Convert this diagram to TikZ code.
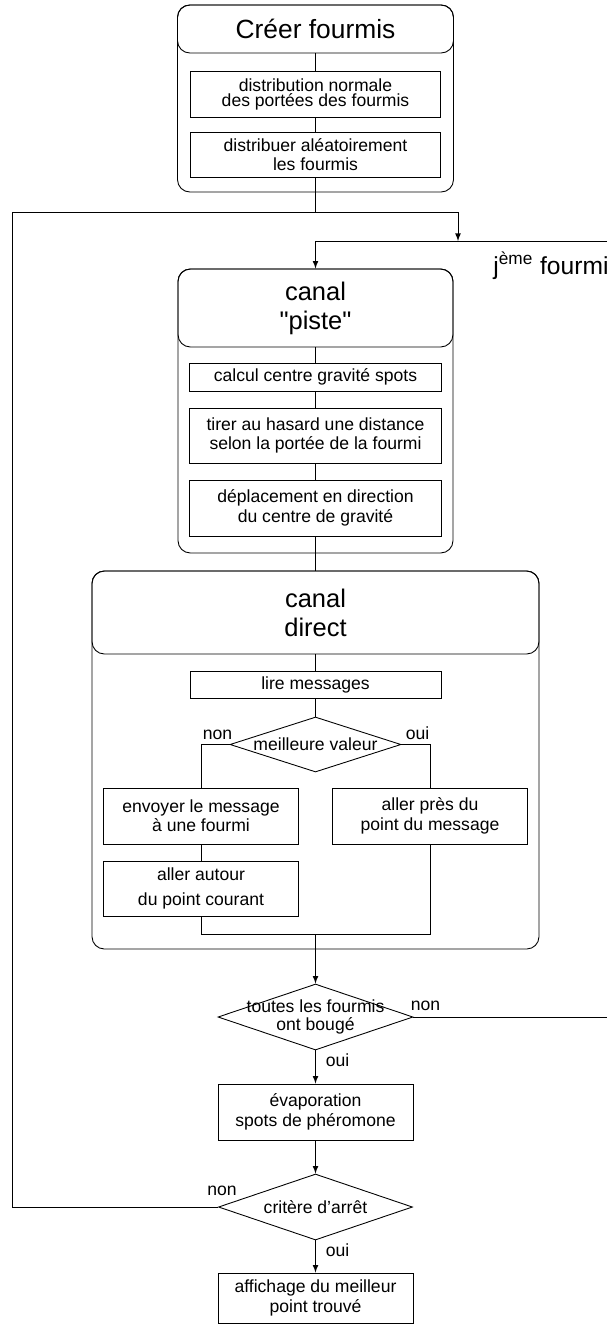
\documentclass[tikz,border=0pt]{standalone}
\usepackage{fontspec}
\setmainfont[Ligatures=TeXOff]{Liberation Sans}
\usetikzlibrary{shapes,positioning}

\begin{document}
\begin{tikzpicture}[
		>=latex,line width=0.5pt,
		groupe/.style={draw,rounded corners=7pt,inner sep=0},
		entete/.style={draw,rounded corners=7pt,align=center,inner sep=0,font=\fontsize{14.5}{16.5}\selectfont},
		etape/.style={draw,align=center,inner sep=0,font=\fontsize{10}{11}\selectfont},
		test/.style={draw,diamond,inner sep=0},
		txt/.style={align=center,inner sep=0,font=\fontsize{10}{10.5}\selectfont},
		lab/.style={inner sep=0,font=\fontsize{10}{11}\selectfont}
	]
	\useasboundingbox (0,0) rectangle (12.14,-26.5);
	% creer fourmis
	\node[groupe,minimum width=5.52cm,minimum height=3.74cm] (G1) at (6.31,-1.97) {};
	\node[entete,minimum width=5.52cm,minimum height=0.96cm,font=\fontsize{15}{17}\selectfont] (H1) at (6.31,-0.58) {Créer fourmis};
	\node[etape,minimum width=5.0cm,minimum height=0.92cm,font=\fontsize{10}{8.5}\selectfont] (dist) at (6.31,-1.88) {distribution normale\\des portées des fourmis};
	\node[etape,minimum width=5.0cm,minimum height=0.90cm] (alea) at (6.31,-3.09) {distribuer aléatoirement\\les fourmis};
	\draw (H1) -- (dist);
	\draw (dist) -- (alea);
	% canal piste
	\node[groupe,minimum width=5.5cm,minimum height=5.68cm] (G2) at (6.31,-8.22) {};
	\node[entete,minimum width=5.5cm,minimum height=1.56cm] (H2) at (6.31,-6.16) {canal\\"piste"};
	\node[etape,minimum width=5.04cm,minimum height=0.56cm] (grav) at (6.31,-7.54) {calcul centre gravité spots};
	\node[etape,minimum width=5.04cm,minimum height=1.10cm] (tir) at (6.31,-8.71) {tirer au hasard une distance\\selon la portée de la fourmi};
	\node[etape,minimum width=5.04cm,minimum height=1.12cm] (depl) at (6.31,-10.16) {déplacement en direction\\du centre de gravité};
	\draw (H2) -- (grav);
	\draw (grav) -- (tir);
	\draw (tir) -- (depl);
	% canal direct
	\node[groupe,minimum width=8.94cm,minimum height=7.56cm] (G3) at (6.31,-15.2) {};
	\node[entete,minimum width=8.94cm,minimum height=1.66cm] (H3) at (6.31,-12.25) {canal\\direct};
	\node[etape,minimum width=5.02cm,minimum height=0.54cm] (lire) at (6.31,-13.69) {lire messages};
	\node[test,minimum width=3.42cm,minimum height=1.10cm] (meil) at (6.31,-14.89) {};
	\node[txt] (meil-t) at (meil) {meilleure valeur};
	\node[etape,minimum width=3.9cm,minimum height=1.12cm] (env) at (4.02,-16.32) {envoyer le message\\à une fourmi};
	\node[etape,minimum width=3.9cm,minimum height=1.12cm] (pres) at (8.60,-16.32) {aller près du\\point du message};
	\node[etape,minimum width=3.9cm,minimum height=1.10cm,font=\fontsize{10}{14}\selectfont] (aut) at (4.02,-17.77) {aller autour\\du point courant};
	\coordinate (fus) at (6.31,-18.68);
	\draw (H3) -- (lire);
	\draw (lire) -- (meil);
	\draw (meil.west) -| (env.north);
	\draw (meil.east) -| (pres.north);
	\draw (env) -- (aut);
	\draw (aut.south) |- (fus) -| (pres.south);
	\node[lab,anchor=south east,xshift=0.06cm,yshift=0.09cm] (n1) at (meil.west) {non};
	\node[lab,anchor=south west,xshift=0.08cm,yshift=0.09cm] (o1) at (meil.east) {oui};
	% boucle
	\node[test,minimum width=3.9cm,minimum height=1.32cm] (tout) at (6.31,-20.34) {};
	\node[txt] (tout-t) at (tout) {toutes les fourmis\\ont bougé};
	\node[etape,minimum width=3.9cm,minimum height=1.12cm] (evap) at (6.31,-22.24) {évaporation\\spots de phéromone};
	\node[test,minimum width=3.88cm,minimum height=1.32cm] (crit) at (6.31,-24.14) {};
	\node[txt] (crit-t) at (crit) {critère d’arrêt};
	\node[etape,minimum width=3.9cm,minimum height=1.0cm] (aff) at (6.31,-25.96) {affichage du meilleur\\point trouvé};
	\node[lab,anchor=south west,xshift=-0.06cm,yshift=0.11cm] (n2) at (tout.east) {non};
	\node[lab,anchor=north west,xshift=0.2cm,yshift=-0.06cm] (o2) at (tout.south) {oui};
	\node[lab,anchor=south east,xshift=0.38cm,yshift=0.21cm] (n3) at (crit.west) {non};
	\node[lab,anchor=north west,xshift=0.2cm,yshift=-0.06cm] (o3) at (crit.south) {oui};
	\node[anchor=base west,inner sep=0,font=\fontsize{14}{16}\selectfont] (jeme) at (9.86,-5.48) {j\textsuperscript{ème} fourmi};
	\coordinate (jn) at (6.31,-4.24);
	\coordinate (jg) at (0.24,-4.24);
	\coordinate (jd) at (9.16,-4.24);
	\coordinate (ja) at (9.16,-4.82);
	\coordinate (jb) at (6.31,-4.82);
	\coordinate (jbord) at (12.14,-4.82);
	\coordinate (tbord) at (12.14,-20.34);
	\draw (alea) -- (jn);
	\draw (crit.west) -| (jg) -- (jd);
	\draw[->] (jd) -- (ja);
	\draw[->] (jbord) -- (jb) -- (G2.north);
	\draw (depl) -- (G3.north);
	\draw[->] (fus) -- (tout.north);
	\draw (tout.east) -- (tbord);
	\draw[->] (tout) -- (evap);
	\draw[->] (evap) -- (crit);
	\draw[->] (crit) -- (aff);
\end{tikzpicture}
\end{document}
